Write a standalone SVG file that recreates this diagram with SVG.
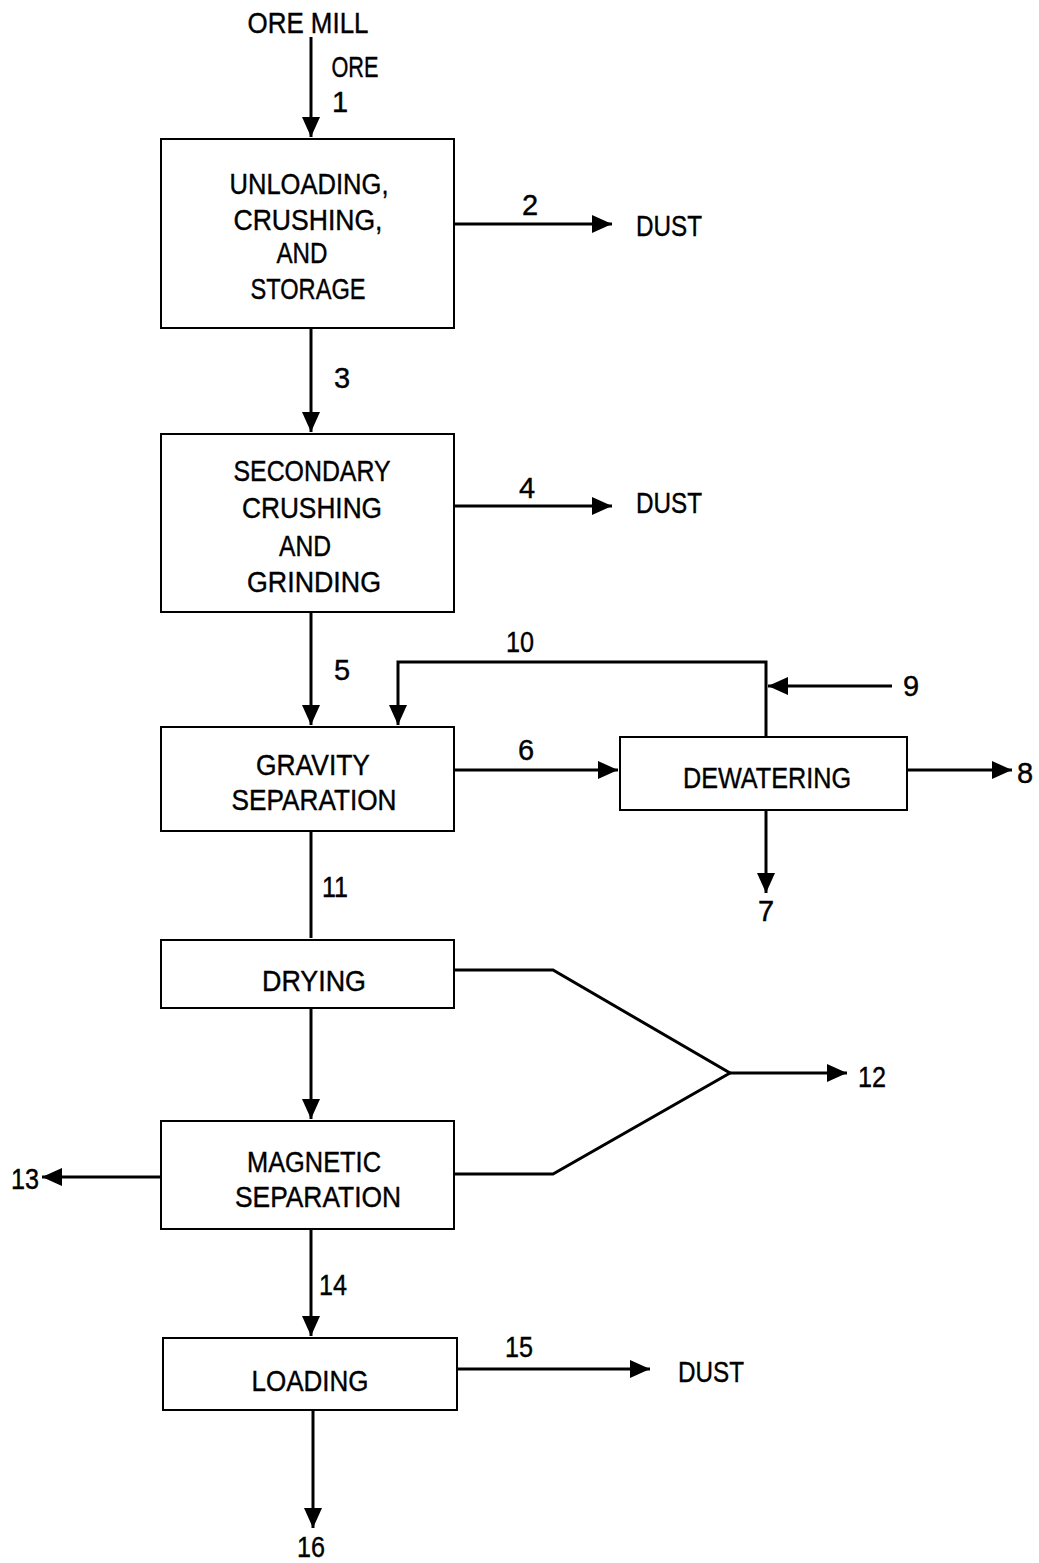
<svg xmlns="http://www.w3.org/2000/svg" width="1039" height="1563" viewBox="0 0 1039 1563">
<style>
text{font-family:"Liberation Sans",Arial,sans-serif;font-size:29px;fill:#000;text-anchor:middle;stroke:#000;stroke-width:0.4}
.box{fill:#fff;stroke:#000;stroke-width:2}
.c{fill:none;stroke:#000;stroke-width:3}
.l{text-anchor:start}
</style>
<defs>
<marker id="ah" markerUnits="userSpaceOnUse" markerWidth="22" markerHeight="18" refX="20" refY="9" orient="auto">
<path d="M0,0 L20,9 L0,18 z" fill="#000"/>
</marker>
</defs>
<rect width="1039" height="1563" fill="#fff"/>
<g id="connectors">
<path class="c" d="M311,37 V137" marker-end="url(#ah)"/>
<path class="c" d="M454,224 H612" marker-end="url(#ah)"/>
<path class="c" d="M311,328 V432" marker-end="url(#ah)"/>
<path class="c" d="M454,506 H612" marker-end="url(#ah)"/>
<path class="c" d="M311,612 V725" marker-end="url(#ah)"/>
<path class="c" d="M766,737 V662 H398 V725" marker-end="url(#ah)"/>
<path class="c" d="M892,686 H768" marker-end="url(#ah)"/>
<path class="c" d="M454,770 H618" marker-end="url(#ah)"/>
<path class="c" d="M907,770 H1012" marker-end="url(#ah)"/>
<path class="c" d="M766,810 V893" marker-end="url(#ah)"/>
<path class="c" d="M311,831 V938"/>
<path class="c" d="M311,1008 V1119" marker-end="url(#ah)"/>
<path class="c" d="M454,970 H553 L730,1073 L553,1174 H454"/>
<path class="c" d="M730,1073 H847" marker-end="url(#ah)"/>
<path class="c" d="M161,1177 H42" marker-end="url(#ah)"/>
<path class="c" d="M311,1229 V1336" marker-end="url(#ah)"/>
<path class="c" d="M457,1369 H650" marker-end="url(#ah)"/>
<path class="c" d="M313,1410 V1528" marker-end="url(#ah)"/>
</g>
<g id="labels">
<text x="308" y="33" textLength="121" lengthAdjust="spacingAndGlyphs">ORE MILL</text>
<text x="355" y="77" textLength="47" lengthAdjust="spacingAndGlyphs">ORE</text>
<text x="340" y="112">1</text>
<text x="530" y="215">2</text>
<text class="l" x="636" y="236" textLength="66" lengthAdjust="spacingAndGlyphs">DUST</text>
<text x="342" y="388">3</text>
<text x="527" y="498">4</text>
<text class="l" x="636" y="513" textLength="66" lengthAdjust="spacingAndGlyphs">DUST</text>
<text x="342" y="680">5</text>
<text x="520" y="652" textLength="28" lengthAdjust="spacingAndGlyphs">10</text>
<text x="911" y="696">9</text>
<text x="526" y="760">6</text>
<text x="1025" y="783">8</text>
<text x="766" y="921">7</text>
<text x="335" y="897" textLength="26" lengthAdjust="spacingAndGlyphs">11</text>
<text x="872" y="1087" textLength="28" lengthAdjust="spacingAndGlyphs">12</text>
<text x="25" y="1189" textLength="28" lengthAdjust="spacingAndGlyphs">13</text>
<text x="333" y="1295" textLength="28" lengthAdjust="spacingAndGlyphs">14</text>
<text x="519" y="1357" textLength="28" lengthAdjust="spacingAndGlyphs">15</text>
<text class="l" x="678" y="1382" textLength="66" lengthAdjust="spacingAndGlyphs">DUST</text>
<text x="311" y="1557" textLength="28" lengthAdjust="spacingAndGlyphs">16</text>
</g>
<g id="n1">
<rect class="box" x="161" y="139" width="293" height="189"/>
<text x="309" y="194" textLength="159" lengthAdjust="spacingAndGlyphs">UNLOADING,</text>
<text x="308" y="230" textLength="149" lengthAdjust="spacingAndGlyphs">CRUSHING,</text>
<text x="302" y="263" textLength="51" lengthAdjust="spacingAndGlyphs">AND</text>
<text x="308" y="299" textLength="115" lengthAdjust="spacingAndGlyphs">STORAGE</text>
</g>
<g id="n2">
<rect class="box" x="161" y="434" width="293" height="178"/>
<text x="312" y="481" textLength="157" lengthAdjust="spacingAndGlyphs">SECONDARY</text>
<text x="312" y="518" textLength="140" lengthAdjust="spacingAndGlyphs">CRUSHING</text>
<text x="305" y="556" textLength="52" lengthAdjust="spacingAndGlyphs">AND</text>
<text x="314" y="592" textLength="134" lengthAdjust="spacingAndGlyphs">GRINDING</text>
</g>
<g id="n3">
<rect class="box" x="161" y="727" width="293" height="104"/>
<text x="313" y="775" textLength="114" lengthAdjust="spacingAndGlyphs">GRAVITY</text>
<text x="314" y="810" textLength="165" lengthAdjust="spacingAndGlyphs">SEPARATION</text>
</g>
<g id="n4">
<rect class="box" x="620" y="737" width="287" height="73"/>
<text x="767" y="788" textLength="168" lengthAdjust="spacingAndGlyphs">DEWATERING</text>
</g>
<g id="n5">
<rect class="box" x="161" y="940" width="293" height="68"/>
<text x="314" y="991" textLength="104" lengthAdjust="spacingAndGlyphs">DRYING</text>
</g>
<g id="n6">
<rect class="box" x="161" y="1121" width="293" height="108"/>
<text x="314" y="1172" textLength="134" lengthAdjust="spacingAndGlyphs">MAGNETIC</text>
<text x="318" y="1207" textLength="166" lengthAdjust="spacingAndGlyphs">SEPARATION</text>
</g>
<g id="n7">
<rect class="box" x="163" y="1338" width="294" height="72"/>
<text x="310" y="1391" textLength="117" lengthAdjust="spacingAndGlyphs">LOADING</text>
</g>
</svg>
